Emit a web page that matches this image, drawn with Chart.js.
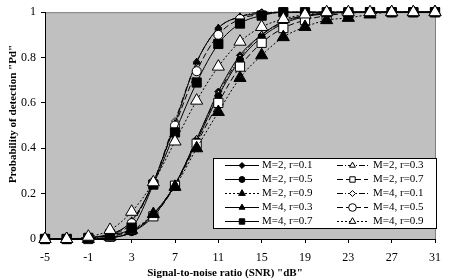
<!DOCTYPE html>
<html>
<head>
<meta charset="utf-8">
<script src="https://cdn.jsdelivr.net/npm/chart.js@4.4.1/dist/chart.umd.min.js"></script>
<style>
  body { margin: 0; background: #fff; }
  #wrap { width: 449px; height: 280px; }
</style>
</head>
<body>
<div id="wrap"><canvas id="chart"></canvas></div>
<script>
// SNR points (dB) and axis ticks
const snr = [-5, -3, -1, 1, 3, 5, 7, 9, 11, 13, 15, 17, 19, 21, 23, 25, 27, 29, 31];
const xTicks = [-5, -1, 3, 7, 11, 15, 19, 23, 27, 31];
const yTicks = [0, 0.2, 0.4, 0.6, 0.8, 1];

const seriesNames = [
  "M=2, r=0.1", "M=2, r=0.3", "M=2, r=0.5", "M=2, r=0.7", "M=2, r=0.9",
  "M=4, r=0.1", "M=4, r=0.3", "M=4, r=0.5", "M=4, r=0.7", "M=4, r=0.9",
];

// probability of detection
const pdM2r01 = [0, 0, 0, 0.005, 0.03, 0.11, 0.24, 0.44, 0.65, 0.81, 0.9, 0.96, 0.985, 0.995, 1, 1, 1, 1, 1];
const pdM2r03 = [0, 0, 0, 0.005, 0.03, 0.11, 0.24, 0.44, 0.64, 0.8, 0.9, 0.955, 0.985, 0.995, 1, 1, 1, 1, 1];
const pdM2r05 = [0, 0, 0, 0.005, 0.03, 0.1, 0.24, 0.43, 0.63, 0.79, 0.89, 0.95, 0.98, 0.993, 1, 1, 1, 1, 1];
const pdM2r07 = [0, 0, 0, 0.01, 0.04, 0.1, 0.235, 0.42, 0.6, 0.76, 0.865, 0.93, 0.965, 0.985, 0.995, 1, 1, 1, 1];
const pdM2r09 = [0, 0, 0, 0.01, 0.04, 0.11, 0.23, 0.4, 0.56, 0.71, 0.81, 0.89, 0.935, 0.965, 0.975, 0.99, 1, 1, 1];
const pdM4r01 = [0, 0, 0.005, 0.02, 0.08, 0.25, 0.52, 0.78, 0.93, 0.98, 1, 1, 1, 1, 1, 1, 1, 1, 1];
const pdM4r03 = [0, 0, 0.005, 0.02, 0.08, 0.25, 0.51, 0.78, 0.93, 0.98, 0.995, 1, 1, 1, 1, 1, 1, 1, 1];
const pdM4r05 = [0, 0, 0.005, 0.02, 0.07, 0.25, 0.5, 0.74, 0.9, 0.97, 0.99, 1, 1, 1, 1, 1, 1, 1, 1];
const pdM4r07 = [0, 0, 0.005, 0.02, 0.05, 0.24, 0.47, 0.69, 0.86, 0.95, 0.985, 1, 1, 1, 1, 1, 1, 1, 1];
const pdM4r09 = [0, 0, 0.01, 0.04, 0.12, 0.25, 0.43, 0.61, 0.76, 0.87, 0.935, 0.97, 0.99, 1, 1, 1, 1, 1, 1];

const seriesValues = [pdM2r01, pdM2r03, pdM2r05, pdM2r07, pdM2r09, pdM4r01, pdM4r03, pdM4r05, pdM4r07, pdM4r09];

// line / marker looks, same order as the series
const SOLID = [];
const DASH_DOT = [6, 2, 1, 2];
const LONG_DASH = [6, 3];
const SHORT_DASH = [2, 2];
const looks = [
  { dash: SOLID, shape: "rectRot", fill: "#000", r: 3.5 },
  { dash: DASH_DOT, shape: "triangle", fill: "#fff", r: 4 },
  { dash: SOLID, shape: "circle", fill: "#000", r: 3.5 },
  { dash: LONG_DASH, shape: "rect", fill: "#fff", r: 6.5 },
  { dash: SHORT_DASH, shape: "triangle", fill: "#000", r: 7 },
  { dash: DASH_DOT, shape: "rectRot", fill: "#fff", r: 3.5 },
  { dash: SOLID, shape: "triangle", fill: "#000", r: 4 },
  { dash: LONG_DASH, shape: "circle", fill: "#fff", r: 4.5 },
  { dash: SOLID, shape: "rect", fill: "#000", r: 6.5 },
  { dash: SHORT_DASH, shape: "triangle", fill: "#fff", r: 7 },
];

const serif = "'Liberation Serif', 'Times New Roman', serif";

function drawMarker(ctx, shape, x, y, r) {
  ctx.beginPath();
  if (shape === "circle") {
    ctx.arc(x, y, r, 0, Math.PI * 2);
  } else if (shape === "rect") {
    const s = r * Math.SQRT1_2;
    ctx.rect(x - s, y - s, 2 * s, 2 * s);
  } else if (shape === "rectRot") {
    ctx.moveTo(x, y - r);
    ctx.lineTo(x + r, y);
    ctx.lineTo(x, y + r);
    ctx.lineTo(x - r, y);
    ctx.closePath();
  } else if (shape === "triangle") {
    for (let i = 0; i < 3; i++) {
      const a = (i * 2 * Math.PI) / 3;
      const px = x + Math.sin(a) * r;
      const py = y - Math.cos(a) * r;
      if (i === 0) ctx.moveTo(px, py);
      else ctx.lineTo(px, py);
    }
    ctx.closePath();
  }
  ctx.fill();
  ctx.stroke();
}

// grey plot area and frame
const framePlugin = {
  id: "frame",
  beforeDraw(chart) {
    const { ctx, chartArea: a } = chart;
    ctx.save();
    ctx.fillStyle = "#fff";
    ctx.fillRect(0, 0, chart.width, chart.height);
    ctx.fillStyle = "#c0c0c0";
    ctx.fillRect(a.left, a.top, a.right - a.left, a.bottom - a.top);
    ctx.strokeStyle = "#808080";
    ctx.lineWidth = 1;
    ctx.beginPath();
    ctx.moveTo(a.left, a.top + 0.5);
    ctx.lineTo(a.right + 0.5, a.top + 0.5);
    ctx.lineTo(a.right + 0.5, a.bottom);
    ctx.stroke();
    ctx.restore();
  },
};

// axis titles + boxed legend in the lower right of the plot
const extrasPlugin = {
  id: "extras",
  afterDraw(chart) {
    const ctx = chart.ctx;
    ctx.save();
    ctx.fillStyle = "#000";
    ctx.font = "bold 11px " + serif;
    ctx.textAlign = "center";
    ctx.textBaseline = "middle";
    ctx.fillText('Signal-to-noise ratio (SNR) "dB"', 225, 273);
    ctx.save();
    ctx.translate(13, 114);
    ctx.rotate(-Math.PI / 2);
    ctx.fillText('Probability of detection "Pd"', 0, 0);
    ctx.restore();

    // legend box
    ctx.fillStyle = "#fff";
    ctx.fillRect(213, 158, 224, 71);
    ctx.strokeStyle = "#000";
    ctx.lineWidth = 1;
    ctx.strokeRect(213.5, 158.5, 223, 70);

    ctx.font = "11px " + serif;
    ctx.textAlign = "left";
    seriesNames.forEach((name, i) => {
      const col = i % 2;
      const row = Math.floor(i / 2);
      const y = 165.5 + row * 14;
      const x0 = col === 0 ? 225 : 337;
      const x1 = col === 0 ? 259 : 368;
      const lk = looks[i];
      ctx.strokeStyle = "#000";
      ctx.lineWidth = 1;
      ctx.setLineDash(lk.dash);
      ctx.beginPath();
      ctx.moveTo(x0, y);
      ctx.lineTo(x1, y);
      ctx.stroke();
      ctx.setLineDash([]);
      ctx.fillStyle = lk.fill;
      drawMarker(ctx, lk.shape, (x0 + x1) / 2, y, Math.min(lk.r, 4.5) * 0.85);
      ctx.fillStyle = "#000";
      ctx.fillText(name, col === 0 ? 262 : 373, y);
    });
    ctx.restore();
  },
};

const datasets = seriesValues.map((vals, i) => ({
  label: seriesNames[i],
  data: snr.map((x, j) => ({ x: x, y: vals[j] })),
  borderColor: "#000",
  borderWidth: 1,
  borderDash: looks[i].dash,
  pointStyle: looks[i].shape,
  pointRadius: looks[i].r,
  pointBackgroundColor: looks[i].fill,
  pointBorderColor: "#000",
  pointBorderWidth: 1,
  cubicInterpolationMode: "monotone",
  fill: false,
  clip: false,
  order: seriesNames.length - i,
}));

new Chart(document.getElementById("chart"), {
  type: "line",
  data: { datasets: datasets },
  plugins: [framePlugin, extrasPlugin],
  options: {
    responsive: true,
    maintainAspectRatio: false,
    devicePixelRatio: 1,
    animation: false,
    layout: { padding: { left: 0, right: 11, top: 7, bottom: 0 } },
    plugins: {
      legend: { display: false },
      tooltip: { enabled: false },
    },
    scales: {
      x: {
        type: "linear",
        min: -5,
        max: 31,
        afterBuildTicks: (scale) => {
          scale.ticks = xTicks.map((v) => ({ value: v }));
        },
        afterFit: (scale) => {
          scale.height = 41;
        },
        grid: { drawOnChartArea: false, drawTicks: true, tickLength: 4, color: "#000" },
        border: { color: "#000", width: 1 },
        ticks: {
          color: "#000",
          font: { family: serif, size: 12 },
          padding: 8,
          maxRotation: 0,
        },
      },
      y: {
        min: 0,
        max: 1,
        afterBuildTicks: (scale) => {
          scale.ticks = yTicks.map((v) => ({ value: v }));
        },
        afterFit: (scale) => {
          scale.width = 45;
        },
        grid: { drawOnChartArea: false, drawTicks: true, tickLength: 4, color: "#000" },
        border: { color: "#000", width: 1 },
        ticks: {
          color: "#000",
          font: { family: serif, size: 12 },
          padding: 5,
          callback: (v) => String(Math.round(v * 10) / 10),
        },
      },
    },
  },
});
</script>
</body>
</html>
